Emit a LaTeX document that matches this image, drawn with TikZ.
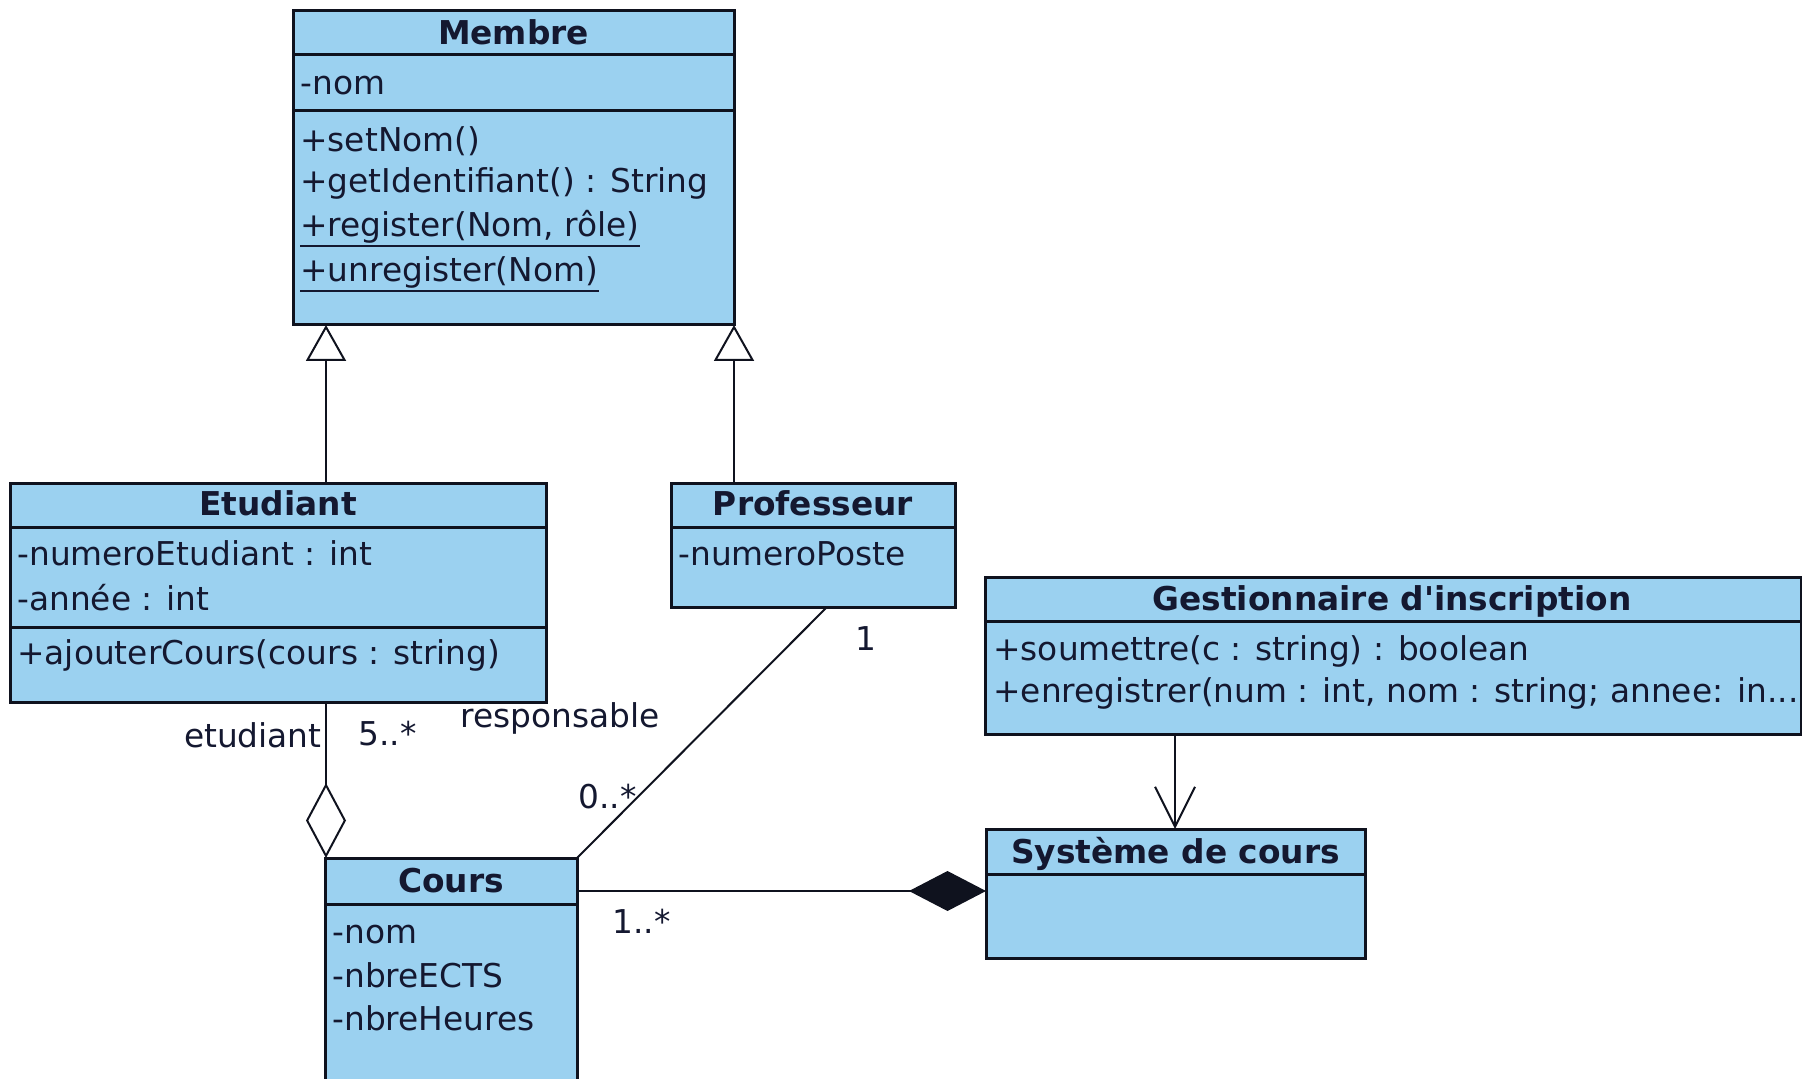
\documentclass[tikz,border=0pt]{standalone}
\usepackage{fontspec}
\setmainfont{DejaVu Sans}[Ligatures=TeXOff]
\usetikzlibrary{arrows.meta}
\definecolor{umlfill}{RGB}{155,209,240}
\definecolor{umlline}{RGB}{15,18,30}
\definecolor{umltext}{RGB}{20,24,48}
\begin{document}
\begin{tikzpicture}[x=0.5pt,y=-0.5pt,
  box/.style={draw=umlline, fill=umlfill, line width=1.5pt, inner sep=0pt, outer sep=0pt, anchor=north west},
  sep/.style={draw=umlline, line width=1.5pt},
  ttl/.style={inner sep=0pt, anchor=base, text=umltext, font=\fontsize{16.4pt}{19pt}\selectfont\bfseries},
  attr/.style={inner sep=0pt, anchor=base west, text=umltext, font=\fontsize{16.4pt}{19pt}\selectfont},
  lbl/.style={attr},
  uline/.style={draw=umltext, line width=1pt},
  conn/.style={draw=umlline, line width=1pt},
  gen/.style={conn, -{Triangle[fill=white,length=18pt,width=20pt]}},
  agg/.style={conn, -{Diamond[fill=white,length=37.5pt,width=20pt]}},
  comp/.style={conn, -{Diamond[length=38.5pt,width=20pt]}},
  nav/.style={conn, -{Straight Barb[length=20pt,width=20pt]}},
]
\useasboundingbox (0,0) rectangle (1802,1079);

% ---- Membre
\node[box, minimum width=220.5pt, minimum height=157pt] (membre) at (293,11) {};
\draw[sep] (membre.west |- 0,55) -- (membre.east |- 0,55);
\draw[sep] (membre.west |- 0,111) -- (membre.east |- 0,111);
\node[ttl] (membreT) at (513.5,45) {Membre};
\node[attr] (m1) at (300,95) {-nom};
\node[attr] (m2) at (300,152) {+setNom()};
\node[attr] (m3) at (300,193) {+getIdentifiant() : String};
\node[attr] (m4) at (300,237) {+register(Nom, rôle)};
\node[attr] (m5) at (300,282) {+unregister(Nom)};
\draw[uline] ([yshift=-0.9pt]m4.south west) -- ([yshift=-0.9pt]m4.south east);
\draw[uline] ([yshift=-0.9pt]m5.south west) -- ([yshift=-0.9pt]m5.south east);

% ---- Etudiant
\node[box, minimum width=268pt, minimum height=109.5pt] (etu) at (10,483) {};
\draw[sep] (etu.west |- 0,527) -- (etu.east |- 0,527);
\draw[sep] (etu.west |- 0,627) -- (etu.east |- 0,627);
\node[ttl] (etuT) at (278,515) {Etudiant};
\node[attr] (e1) at (17,565) {-numeroEtudiant : int};
\node[attr] (e2) at (17,610) {-année : int};
\node[attr] (e3) at (17,664) {+ajouterCours(cours : string)};

% ---- Professeur
\node[box, minimum width=142pt, minimum height=62pt] (prof) at (671,483) {};
\draw[sep] (prof.west |- 0,527) -- (prof.east |- 0,527);
\node[ttl] (profT) at (813,515) {Professeur};
\node[attr] (p1) at (678,565) {-numeroPoste};

% ---- Gestionnaire d'inscription
\node[box, minimum width=408pt, minimum height=78.5pt] (gest) at (985,577) {};
\draw[sep] (gest.west |- 0,621) -- (gest.east |- 0,621);
\node[ttl] (gestT) at (1392,610) {Gestionnaire d'inscription};
\node[attr] (g1) at (993,660) {+soumettre(c : string) : boolean};
\node[attr] (g2) at (993,702) {+enregistrer(num : int, nom : string; annee: in...};

% ---- Systeme de cours
\node[box, minimum width=189.5pt, minimum height=64.5pt] (sys) at (986,829) {};
\draw[sep] (sys.west |- 0,874) -- (sys.east |- 0,874);
\node[ttl] (sysT) at (1175.5,863) {Système de cours};

% ---- Cours
\node[box, minimum width=126pt, minimum height=118pt] (cours) at (325,858) {};
\draw[sep] (cours.west |- 0,904) -- (cours.east |- 0,904);
\node[ttl] (coursT) at (451,892) {Cours};
\node[attr] (c1) at (332,943) {-nom};
\node[attr] (c2) at (332,987) {-nbreECTS};
\node[attr] (c3) at (332,1030) {-nbreHeures};

% ---- connector anchors
\coordinate (xg1) at (326,0);
\coordinate (xg2) at (734,0);
\coordinate (xpc) at (827,0);
\coordinate (ycomp) at (0,891);
\coordinate (xnav) at (1175,0);

% ---- connectors
\draw[gen] (etu.north -| xg1) -- (membre.south -| xg1);
\draw[gen] (prof.north -| xg2) -- (membre.south -| xg2);
\draw[agg] (etu.south -| xg1) -- (cours.north -| xg1);
\draw[conn] (prof.south -| xpc) -- (cours.north east);
\draw[comp] (cours.east |- ycomp) -- (sys.west |- ycomp);
\draw[nav] (gest.south -| xnav) -- (sys.north -| xnav);

% ---- labels
\node[lbl, anchor=base east] (lEtud) at (322,747) {etudiant};
\node[lbl] (lCinq) at (358,745) {5..*};
\node[lbl] (lResp) at (460,727) {responsable};
\node[lbl] (lZero) at (578,808) {0..*};
\node[lbl] (lUn) at (855,650) {1};
\node[lbl] (lUnEt) at (612,933) {1..*};
\end{tikzpicture}
\end{document}
